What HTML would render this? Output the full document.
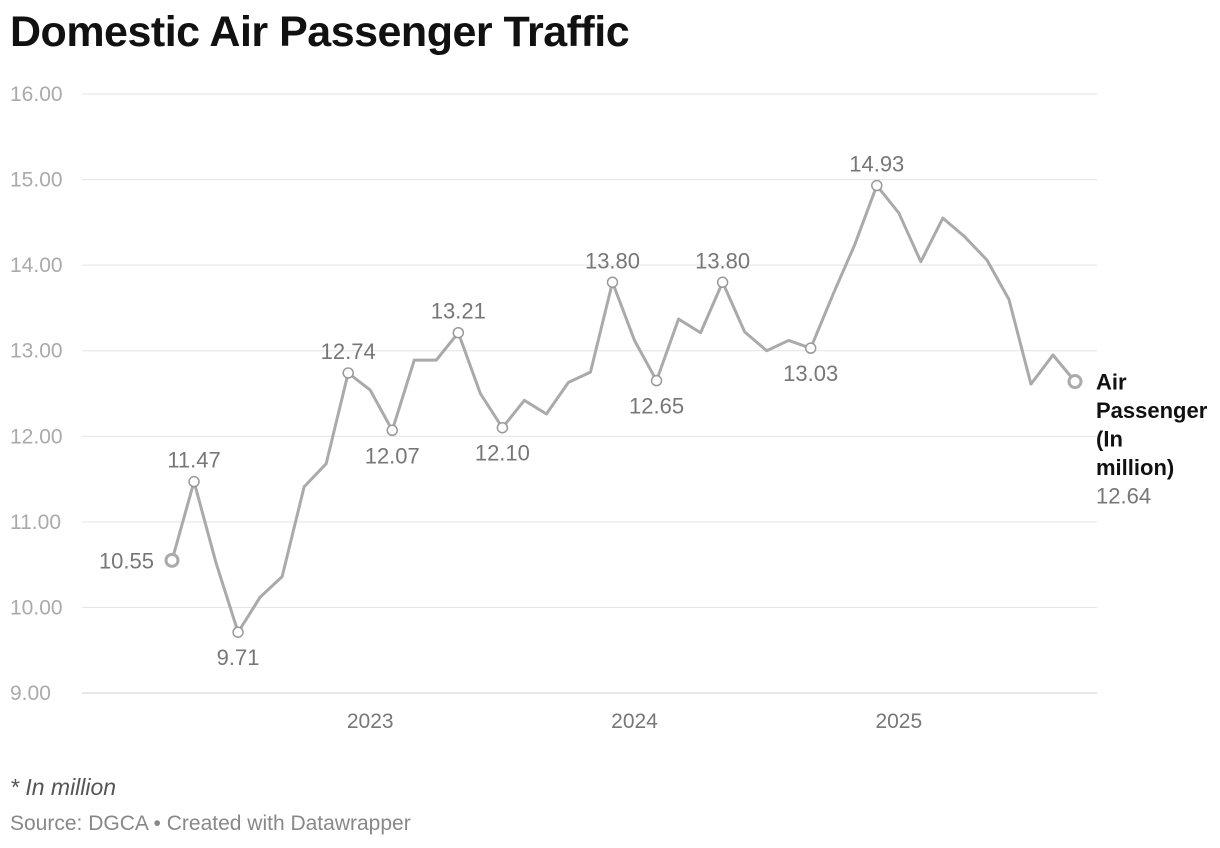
<!DOCTYPE html>
<html><head><meta charset="utf-8">
<style>
body{margin:0;background:#fff;width:1220px;height:848px;overflow:hidden;font-family:"Liberation Sans",Arial,sans-serif;}
#title{position:absolute;left:10px;top:8px;font-size:43px;font-weight:bold;color:#111;margin:0;letter-spacing:-0.5px}
#note{position:absolute;left:10px;top:774px;font-size:23px;font-style:italic;color:#555}
#source{position:absolute;left:10px;top:812px;font-size:21px;color:#888}
svg{position:absolute;left:0;top:0}
</style></head><body>
<h1 id="title">Domestic Air Passenger Traffic</h1>
<svg id="chart" width="1220" height="848"></svg>
<div id="note">* In million</div>
<div id="source">Source: DGCA • Created with Datawrapper</div>
<script>
const values=[10.55,11.47,10.52,9.71,10.12,10.36,11.41,11.68,12.74,12.54,12.07,12.89,12.89,13.21,12.50,12.10,12.42,12.26,12.63,12.75,13.80,13.12,12.65,13.37,13.21,13.80,13.22,13.00,13.12,13.03,13.65,14.24,14.93,14.61,14.04,14.55,14.33,14.06,13.60,12.61,12.95,12.64];
const yTicks=[9,10,11,12,13,14,15,16];
const yearLabels=["2023","2024","2025"];
const yearIndex=[9,21,33];
const annotated=[1,3,8,10,13,15,20,22,25,29,32];
const annotPos=["up","down","up","down","up","down","up","down","up","down","up"];
const NS="http://www.w3.org/2000/svg";
const svg=document.getElementById('chart');
const x=i=>172+i*(1075-172)/(values.length-1);
const y=v=>693-(v-9)*(693-94)/7;
function mk(t,a,p){const e=document.createElementNS(NS,t);for(const k in a)e.setAttribute(k,a[k]);(p||svg).appendChild(e);return e;}
yTicks.forEach(t=>{
  const l=mk('line',{x1:82,x2:1097,y1:y(t),y2:y(t),stroke:t===9?'#cfcfcf':'#e3e3e3','stroke-width':1});
  
  
  const tx=mk('text',{x:10,y:y(t)+7,'font-size':21,fill:'#aaa'});
  tx.textContent=t.toFixed(2);
  
  
});
yearLabels.forEach((yr,k)=>{
  const tx=mk('text',{x:x(yearIndex[k]),y:728,'font-size':21,fill:'#777','text-anchor':'middle'});
  tx.textContent=yr;
  
  
});
const p=mk('polyline',{points:values.map((v,i)=>x(i)+','+y(v)).join(' '),fill:'none',stroke:'#aaa','stroke-width':3,'stroke-linejoin':'round'});


annotated.forEach((i,k)=>{
  const c=mk('circle',{cx:x(i),cy:y(values[i]),r:5,fill:'#fff',stroke:'#999','stroke-width':1.5});
  
  
  const up=annotPos[k]==='up';
  const t=mk('text',{x:x(i),y:y(values[i])+(up?-14:33),'font-size':22,fill:'#777','text-anchor':'middle'});
  t.textContent=values[i].toFixed(2);
  
  
});
[0,values.length-1].forEach(i=>{
  const c=mk('circle',{cx:x(i),cy:y(values[i]),r:6,fill:'#fff',stroke:'#aaa','stroke-width':3});
  
  
});
const s=mk('text',{x:x(0)-18,y:y(values[0])+8,'font-size':22,fill:'#777','text-anchor':'end'});
s.textContent=values[0].toFixed(2);


const last=values.length-1;
["Air","Passenger","(In","million)"].forEach((w,k)=>{
  const t=mk('text',{x:1096,y:y(values[last])+8+k*28.5,'font-size':22,'font-weight':'bold',fill:'#111'});
  t.textContent=w;
  
  
});
const e=mk('text',{x:1096,y:y(values[last])+8+4*28.5,'font-size':22,fill:'#777'});
e.textContent=values[last].toFixed(2);


</script>
</body></html>
